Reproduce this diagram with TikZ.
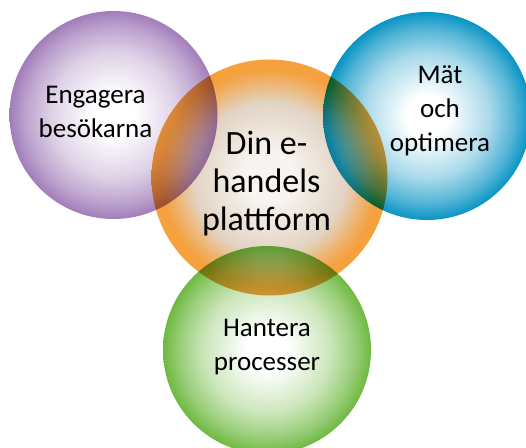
\documentclass[tikz,border=0pt]{standalone}
\usepackage{fontspec}
\setmainfont{Carlito}
\usepackage{tikz}
\usetikzlibrary{positioning, calc}

\definecolor{lila}{HTML}{A27DBA}
\definecolor{bla}{HTML}{0894C4}
\definecolor{gron}{HTML}{6EB940}
\definecolor{orangekant}{HTML}{F28C14}
\definecolor{orangemitt}{HTML}{DCCAB6}
\definecolor{orangeljus}{HTML}{F6F2EE}

% radierna: 25bp = bubblans kant
\pgfdeclareradialshading{lilashade}{\pgfpoint{0bp}{0bp}}{color(0bp)=(white); color(5bp)=(white); color(15bp)=(lila!35!white); color(21bp)=(lila!70!white); color(25bp)=(lila); color(50bp)=(lila)}
\pgfdeclareradialshading{blashade}{\pgfpoint{0bp}{0bp}}{color(0bp)=(white); color(5bp)=(white); color(15bp)=(bla!35!white); color(21bp)=(bla!70!white); color(25bp)=(bla); color(50bp)=(bla)}
\pgfdeclareradialshading{gronshade}{\pgfpoint{0bp}{0bp}}{color(0bp)=(white); color(5bp)=(white); color(15bp)=(gron!35!white); color(21bp)=(gron!70!white); color(25bp)=(gron); color(50bp)=(gron)}
\pgfdeclareradialshading{orangeshade}{\pgfpoint{0bp}{0bp}}{color(0bp)=(orangeljus); color(5bp)=(orangeljus); color(16bp)=(orangemitt); color(20bp)=(orangekant!60!orangemitt); color(23bp)=(orangekant); color(50bp)=(orangekant)}

\begin{document}
\begin{tikzpicture}[x=1pt, y=1pt,
    bubble/.style={circle, draw=none, inner sep=0pt},
    txt/.style={align=center, font=\fontsize{27}{34}\selectfont},
    bigtxt/.style={align=center, font=\fontsize{34}{38}\selectfont}]
        \useasboundingbox (0,0) rectangle (526,447);
        \clip (0,0) rectangle (526,447);

        % bubblorna
        \node[bubble, minimum size=208pt, shading=lilashade] (engagera) at (113.5,332) {};
        \node[bubble, minimum size=208pt, shading=blashade] (mat) at (427,331) {};
        \node[bubble, minimum size=208pt, shading=gronshade] (hantera) at (267,97) {};
        \node[bubble, minimum size=236pt, shading=orangeshade, blend mode=multiply, opacity=0.82] (plattform) at (269.5,269.5) {};

        % texterna
        \node[txt] (engageratext) at ([shift={(-18,3)}]engagera.center) {Engagera\\besökarna};
        \node[txt] (mattext) at ([shift={(13,5)}]mat.center) {Mät\\och\\optimera};
        \node[txt] (hanteratext) at ([shift={(0,3)}]hantera.center) {Hantera\\processer};
        \node[bigtxt] (plattformtext) at ([shift={(-3,-6)}]plattform.center) {Din e-\\handels\\plattform};
    \end{tikzpicture}
\end{document}
